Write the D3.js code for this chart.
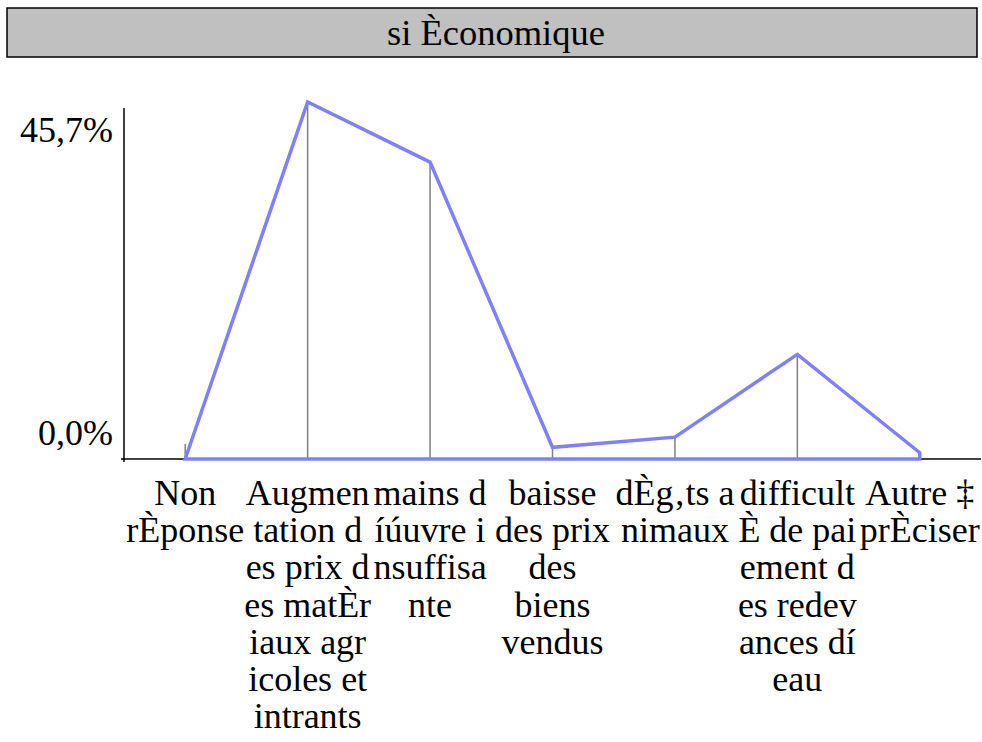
<!DOCTYPE html>
<meta charset="utf-8">
<body style="margin:0">
<svg id="chart" width="982" height="742" font-family="Liberation Serif, Times New Roman, serif"></svg>
<script src="https://d3js.org/d3.v7.min.js"></script>
<script>
// data
var title = "si Èconomique";
var categories = ["nr", "augm", "mo", "baisse", "degats", "redev", "autre"];
var labels = [
  ["Non", "rÈponse"],
  ["Augmen", "tation d", "es prix d", "es matÈr", "iaux agr", "icoles et", "intrants"],
  ["mains d", "íúuvre i", "nsuffisa", "nte"],
  ["baisse", "des prix", "des", "biens", "vendus"],
  ["dÈg‚ts a", "nimaux"],
  ["difficult", "È de pai", "ement d", "es redev", "ances dí", "eau"],
  ["Autre ‡", "prÈciser"]
];
var values = [0, 45.7, 38.0, 1.5, 2.8, 13.4, 0.8];
var tickValues = [45.7, 0];
var tickLabels = ["45,7%", "0,0%"];

var svg = d3.select("#chart");

// title box
svg.append("rect")
    .attr("x", 7).attr("y", 8)
    .attr("width", 970).attr("height", 49)
    .attr("fill", "#c0c0c0")
    .attr("stroke", "#000")
    .attr("stroke-width", 1.5);

svg.append("text")
    .attr("x", 496).attr("y", 45)
    .attr("text-anchor", "middle")
    .attr("font-size", 36.5)
    .text(title);

// scales
var x = d3.scaleBand()
    .domain(categories)
    .range([124, 981]);

var y = d3.scaleLinear()
    .domain([0, 45.7])
    .range([459, 102]);

function cx(c) { return x(c) + x.bandwidth() / 2; }

// axes lines
svg.append("line")
    .attr("x1", 124).attr("x2", 124)
    .attr("y1", 108).attr("y2", y(0) + 3)
    .attr("stroke", "#000").attr("stroke-width", 1.5);

svg.append("line")
    .attr("x1", 121).attr("x2", x.range()[1])
    .attr("y1", y(0)).attr("y2", y(0))
    .attr("stroke", "#000").attr("stroke-width", 1.5);

// y tick labels (top one hangs under the axis top, bottom one sits on the baseline)
svg.selectAll(".ylab")
    .data(tickValues)
  .enter().append("text")
    .attr("class", "ylab")
    .attr("x", 113)
    .attr("y", function(d, i) { return i === 0 ? y(d) + 40 : y(d) - 14; })
    .attr("text-anchor", "end")
    .attr("font-size", 36)
    .text(function(d, i) { return tickLabels[i]; });

// drop lines from each point
svg.selectAll(".drop")
    .data(values)
  .enter().append("line")
    .attr("class", "drop")
    .attr("stroke", "#808080")
    .attr("stroke-width", 1.5)
    .attr("x1", function(d, i) { return cx(categories[i]); })
    .attr("x2", function(d, i) { return cx(categories[i]); })
    .attr("y1", function(d) { return d === 0 ? y(0) - 15 : y(d); })
    .attr("y2", y(0));

// outlined area: data line and back along the baseline
var pts = values.map(function(v, i) { return [cx(categories[i]), y(v)]; });
pts.push([cx(categories[categories.length - 1]), y(0)]);
pts.push([cx(categories[0]), y(0)]);

svg.append("path")
    .datum(pts)
    .attr("fill", "none")
    .attr("stroke", "#8080ff")
    .attr("stroke-width", 3.5)
    .attr("d", d3.line().curve(d3.curveLinearClosed));

// x labels, one line per tspan
var lab = svg.selectAll(".xlab")
    .data(labels)
  .enter().append("text")
    .attr("class", "xlab")
    .attr("text-anchor", "middle")
    .attr("font-size", 36);

lab.selectAll("tspan")
    .data(function(d, i) { return d.map(function(s) { return {s: s, i: i}; }); })
  .enter().append("tspan")
    .attr("x", function(d) { return cx(categories[d.i]); })
    .attr("y", function(d, j) { return 505 + j * 37.2; })
    .text(function(d) { return d.s; });
</script>
</body>
